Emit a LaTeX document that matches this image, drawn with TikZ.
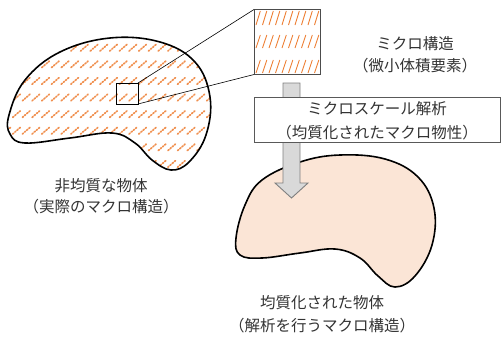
\documentclass[tikz,border=0pt]{standalone}
\usepackage{fontspec}
\setmainfont{Noto Sans CJK JP}
\usetikzlibrary{calc}
\definecolor{hatchorange}{HTML}{ED7D31}
\definecolor{peach}{HTML}{FBE5D6}
\definecolor{arrowgray}{HTML}{D9D9D9}
\definecolor{edgegray}{HTML}{7F7F7F}
\begin{document}
\begin{tikzpicture}[x=1pt,y=-1pt,
  lbl/.style={align=center, font=\fontsize{15.5}{22}\selectfont, text=black!80, inner sep=0pt},
  blobline/.style={line width=1.6pt, black},
  blobhatch/.style={hatchorange, opacity=0.85, line width=1.7pt, line cap=round, dash pattern=on 1.3pt off 1.6pt},
  boxhatch/.style={hatchorange, line width=0.9pt},
  zoombox/.style={draw=black, line width=0.8pt, minimum width=22pt, minimum height=21pt, inner sep=0pt, outer sep=0pt},
  microbox/.style={draw=black!70, line width=0.9pt, minimum width=66pt, minimum height=65pt, inner sep=0pt, outer sep=0pt},
  scalebox/.style={draw=black!65, fill=white, line width=0.9pt, minimum width=246pt, minimum height=45pt, inner sep=0pt, outer sep=0pt},
  fatarrow/.style={draw=edgegray, fill=arrowgray, line width=0.9pt, line join=miter}
]
\useasboundingbox (0,0) rectangle (502,338);

\def\leftblob{plot[smooth cycle, tension=0.65] coordinates {(9,115) (25,80) (60,52) (110,38) (160,42) (195,62) (210,97) (206,135) (189,162) (171,170) (152,160) (135,143) (112,133) (70,138) (25,143) (10,134)}}
\def\rightblob{plot[smooth cycle, tension=0.65] coordinates {(236,238) (245,205) (262,180) (300,162) (340,155) (385,159) (418,177) (434,208) (432,245) (415,276) (395,287) (378,276) (360,258) (335,249) (300,253) (262,258) (240,255)}}

% left heterogeneous body
\begin{scope}
  \clip \leftblob;
  \foreach \r in {0,...,7} {
    \foreach \c in {0,...,22} {
      \draw[blobhatch] ({3+\c*9.7}, {48+\r*16.6+3}) -- ++(7.5,-6.5);
    }
  }
\end{scope}
\draw[blobline] \leftblob;

% right homogenized body
\draw[blobline, fill=peach] \rightblob;

% zoom box and micro element
\node[zoombox] (zoom) at (127,93.5) {};
\node[microbox] (micro) at (287,42) {};
\begin{scope}
  \clip (micro.north west) rectangle (micro.south east);
  \foreach \y/\h in {25/14, 48/13, 73/13} {
    \foreach \c in {0,...,10} {
      \draw[boxhatch] ({256+\c*6.5}, \y) -- ++(4.3,-\h);
    }
  }
\end{scope}
\node[microbox] at (micro) {};
\draw[line width=0.6pt] (zoom.north east) -- (micro.north west);
\draw[line width=0.6pt] (zoom.south east) -- (micro.south west);

% homogenization arrow
\coordinate (atop) at (291.5,83);
\coordinate (atip) at (291.5,198);
\draw[fatarrow] ($(atop)+(-8.5,0)$) -- ($(atip)+(-8.5,-15)$) -- ($(atip)+(-16.5,-15)$) -- (atip)
  -- ($(atip)+(16.5,-15)$) -- ($(atip)+(8.5,-15)$) -- ($(atop)+(8.5,0)$) -- cycle;

% micro-scale analysis box
\node[scalebox] (scale) at (377,119.5) {};

% labels
\node[lbl] (microlbl) at (415,55) {ミクロ構造\\（微小体積要素）};
\node[lbl, font=\fontsize{15.5}{24}\selectfont] (scalelbl) at (377,121) {ミクロスケール解析\\（均質化されたマクロ物性）};
\node[lbl, font=\fontsize{15.5}{21}\selectfont] (leftlbl) at (101,196) {非均質な物体\\（実際のマクロ構造）};
\node[lbl, font=\fontsize{15.5}{23}\selectfont] (rightlbl) at (322,314) {均質化された物体\\（解析を行うマクロ構造）};
\end{tikzpicture}
\end{document}
